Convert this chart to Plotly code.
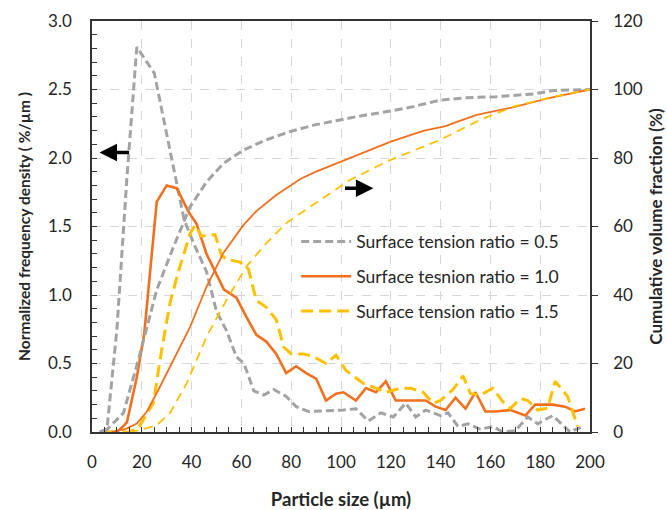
import plotly.graph_objects as go

# ---- data ----
x_d05 = [3, 6, 10, 14, 18, 25, 37, 41, 46, 50, 54, 58, 61, 65, 69, 73, 78, 82, 87, 95, 101, 106, 111, 116, 121, 126, 130, 134, 140, 143, 147, 151, 156, 161, 165, 170, 175, 179, 185, 192, 197]
y_d05 = [0, 0.02, 0.75, 1.85, 2.81, 2.62, 1.55, 1.37, 1.17, 0.88, 0.74, 0.55, 0.5, 0.3, 0.27, 0.31, 0.26, 0.185, 0.15, 0.155, 0.16, 0.17, 0.08, 0.14, 0.11, 0.21, 0.11, 0.16, 0.12, 0.14, 0.04, 0.06, 0.02, 0.04, 0.0, 0.01, 0.11, 0.06, 0.12, 0.0, 0.04]

x_d10 = [5, 10, 13, 14, 18, 21, 26, 30, 34, 39, 42, 46, 53, 58, 62, 66, 70, 74, 78, 82, 86, 90, 94, 98, 101, 106, 110, 114, 118, 122, 134, 138, 142, 146, 150, 154, 158, 162, 168, 174, 178, 185, 190, 194, 198]
y_d10 = [0, 0, 0.05, 0.07, 0.4, 0.72, 1.68, 1.8, 1.78, 1.6, 1.52, 1.3, 1.04, 0.98, 0.84, 0.71, 0.66, 0.57, 0.43, 0.48, 0.43, 0.39, 0.23, 0.28, 0.29, 0.23, 0.32, 0.29, 0.37, 0.23, 0.23, 0.185, 0.16, 0.25, 0.17, 0.29, 0.15, 0.15, 0.16, 0.12, 0.2, 0.2, 0.185, 0.15, 0.17]

x_d15 = [5, 15, 19, 24.6, 28, 31.3, 34.7, 39.4, 41.4, 44, 49.4, 52, 54, 59.4, 62.8, 66, 70, 74, 77, 80, 85, 89, 94, 98, 102, 109, 114, 118, 124, 128, 133, 137, 140, 145, 149, 152, 156, 161, 165, 168, 172, 175, 179, 183, 186, 191, 195]
y_d15 = [0, 0, 0.04, 0.21, 0.6, 0.94, 1.17, 1.45, 1.51, 1.43, 1.44, 1.29, 1.26, 1.24, 1.19, 0.96, 0.91, 0.82, 0.62, 0.57, 0.57, 0.55, 0.5, 0.56, 0.45, 0.355, 0.32, 0.29, 0.32, 0.32, 0.29, 0.21, 0.23, 0.31, 0.41, 0.28, 0.27, 0.32, 0.22, 0.17, 0.245, 0.23, 0.16, 0.175, 0.37, 0.26, 0.04]

x_c05 = [5, 7, 12.6, 18.6, 26, 32.7, 39.4, 46, 52.7, 60.8, 70, 79.5, 89, 99.6, 106.3, 119.7, 129, 139.8, 150.5, 162.5, 177.2, 185.3, 200]
y_c05 = [0, 1.5, 5.5, 21, 41.5, 54, 65.8, 73, 78.4, 82.3, 85.3, 87.7, 89.6, 91.1, 92.1, 93.7, 95, 96.9, 97.6, 97.9, 98.7, 99.7, 100]

x_c10 = [8, 13.9, 18, 22, 27.3, 32.7, 39.4, 46, 52.7, 60.8, 66, 74, 84, 90, 105, 120, 133, 142, 146, 154.5, 169, 183, 200]
y_c10 = [0, 1, 2.5, 5.9, 13.2, 21, 30.7, 42.4, 52.2, 60.4, 64.5, 69.2, 74, 76, 80.4, 84.8, 87.9, 89.3, 90.4, 92.6, 94.8, 97.4, 100]

x_c15 = [15, 19.3, 26, 31.3, 38, 46, 54, 62, 70, 78, 91.6, 103.6, 119.7, 139.8, 155.8, 169.2, 185.3, 200]
y_c15 = [0, 0.6, 2, 5.5, 14.2, 27.8, 38.5, 48.3, 55.1, 61, 67.7, 73.6, 79.4, 85.3, 91.1, 95, 97.9, 100]

names = ["Surface tension ratio = 0.5", "Surface tesnion ratio = 1.0", "Surface tension ratio = 1.5"]

GRAY = "#a3a3a3"
ORANGE = "#f0701e"
YELLOW = "#ffc000"
FONT = "Lato"
TXT = "#262626"

fig = go.Figure()
# density (left axis)
fig.add_trace(go.Scatter(x=x_d05, y=y_d05, mode="lines", name=names[0], legendgroup="a",
                         line=dict(color=GRAY, width=3, dash="8px,4px")))
fig.add_trace(go.Scatter(x=x_d10, y=y_d10, mode="lines", name=names[1], legendgroup="b",
                         line=dict(color=ORANGE, width=2.6)))
fig.add_trace(go.Scatter(x=x_d15, y=y_d15, mode="lines", name=names[2], legendgroup="c",
                         line=dict(color=YELLOW, width=3, dash="12px,6px")))
# cumulative (right axis)
fig.add_trace(go.Scatter(x=x_c05, y=y_c05, mode="lines", yaxis="y2", showlegend=False,
                         line=dict(color=GRAY, width=3, dash="8px,4px")))
fig.add_trace(go.Scatter(x=x_c10, y=y_c10, mode="lines", yaxis="y2", showlegend=False,
                         line=dict(color=ORANGE, width=1.8)))
fig.add_trace(go.Scatter(x=x_c15, y=y_c15, mode="lines", yaxis="y2", showlegend=False,
                         line=dict(color=YELLOW, width=1.8, dash="9px,6px")))

fig.update_layout(
    width=667, height=510,
    margin=dict(l=92, r=77, t=21, b=78, autoexpand=False),
    paper_bgcolor="white", plot_bgcolor="white",
    font=dict(family=FONT, size=17, color=TXT),
    xaxis=dict(range=[0, 200], dtick=20, showgrid=True, gridcolor="#d6d6d6", griddash="dash",
               showline=True, linecolor="#333333", linewidth=1.5, mirror=True, automargin=False,
               ticks="inside", ticklen=5, tickcolor="#333333", ticklabelstandoff=14,
               minor=dict(dtick=5, ticks="inside", ticklen=5, tickcolor="#333333", showgrid=False),
               zeroline=False,
               title=dict(text="<b>Particle size (µm)</b>", font=dict(size=18.5, family=FONT), standoff=22)),
    yaxis=dict(range=[0, 3.0], dtick=0.5, tickformat=".1f", showgrid=True, gridcolor="#d6d6d6",
               griddash="dash", showline=True, linecolor="#333333", linewidth=1.5, automargin=False,
               ticks="inside", ticklen=5, tickcolor="#333333", ticklabelstandoff=15,
               minor=dict(dtick=0.1, ticks="inside", ticklen=5, tickcolor="#333333", showgrid=False),
               zeroline=False,
               title=dict(text="<b>Normalized frequency density ( %/µm )</b>", font=dict(size=15.5, family=FONT), standoff=14)),
    yaxis2=dict(range=[0, 120], dtick=20, overlaying="y", side="right", showgrid=False,
                showline=True, linecolor="#333333", linewidth=1.5, automargin=False,
                ticks="outside", ticklen=6, tickcolor="#333333", ticklabelstandoff=12,
                zeroline=False,
                title=dict(text="<b>Cumulative volume fraction (%)</b>", font=dict(size=17, family=FONT), standoff=8)),
    legend=dict(x=0.41, y=0.507, xanchor="left", yanchor="top", bgcolor="rgba(0,0,0,0)",
                font=dict(size=17.5, family=FONT, color=TXT), itemwidth=50,
                traceorder="grouped", tracegroupgap=9),
    showlegend=True,
)

fig.add_annotation(x=3, y=2.04, ax=15.5, ay=2.04, xref="x", yref="y", axref="x", ayref="y",
                   showarrow=True, arrowhead=2, arrowsize=1, arrowwidth=3.5, arrowcolor="black", text="")
fig.add_annotation(x=113, y=1.78, ax=101, ay=1.78, xref="x", yref="y", axref="x", ayref="y",
                   showarrow=True, arrowhead=2, arrowsize=1, arrowwidth=3.5, arrowcolor="black", text="")

fig.write_html("out.html")
